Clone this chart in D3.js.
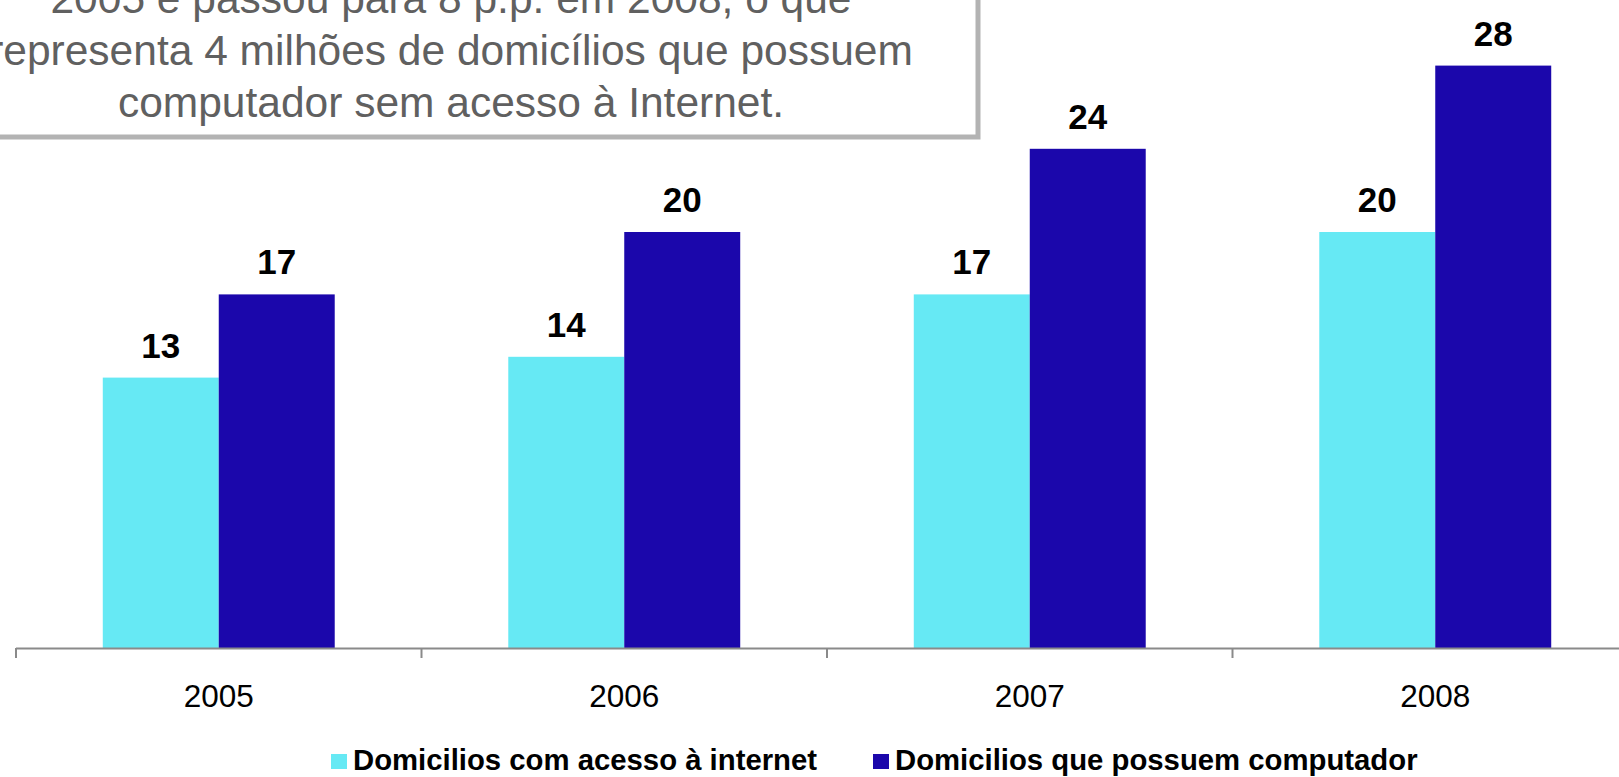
<!DOCTYPE html>
<html>
<head>
<meta charset="utf-8">
<script src="https://cdn.jsdelivr.net/npm/d3@7"></script>
<style>
  html, body { margin: 0; padding: 0; background: #ffffff; overflow: hidden; }
  svg { display: block; font-family: "Liberation Sans", Arial, sans-serif; }
</style>
</head>
<body>
<svg id="chart" width="1619" height="777"></svg>
<script>
// ---- data ----
const years = ["2005", "2006", "2007", "2008"];
const seriesNames = ["Domicilios com acesso à internet", "Domicilios que possuem computador"];
const internetValues = [13, 14, 17, 20];
const computerValues = [17, 20, 24, 28];
const seriesColors = ["#66e9f4", "#1b07ab"];
const noteLines = [
  "2005 e passou para 8 p.p. em 2008, o que",
  "representa 4 milhões de domicílios que possuem",
  "computador sem acesso à Internet."
];

const rows = years.map((y, i) => ({ year: y, values: [internetValues[i], computerValues[i]] }));

const svg = d3.select("#chart");

// ---- scales ----
const axisY = 648;
const x0 = d3.scaleBand()
  .domain(years)
  .range([16, 1638])
  .paddingInner(0.428)
  .paddingOuter(0.214);

const x1 = d3.scaleBand()
  .domain(d3.range(seriesNames.length))
  .range([0, x0.bandwidth()])
  .padding(0);

const y = d3.scaleLinear()
  .domain([0, 30])
  .range([axisY, axisY - 30 * 20.8]);

// ---- note box ----
svg.append("rect")
  .attr("x", -10).attr("y", -10)
  .attr("width", 988).attr("height", 147)
  .attr("fill", "#ffffff")
  .attr("stroke", "#b3b3b3")
  .attr("stroke-width", 5);

svg.append("g")
  .selectAll("text")
  .data(noteLines)
  .join("text")
  .attr("x", 451)
  .attr("y", (d, i) => 13 + i * 52)
  .attr("text-anchor", "middle")
  .attr("font-size", 42.5)
  .attr("fill", "#606060")
  .text(d => d);

// ---- bars ----
const groups = svg.append("g")
  .selectAll("g")
  .data(rows)
  .join("g")
  .attr("transform", d => `translate(${x0(d.year)},0)`);

groups.selectAll("rect")
  .data(d => d.values.map((v, i) => ({ v, i })))
  .join("rect")
  .attr("x", d => x1(d.i))
  .attr("width", x1.bandwidth())
  .attr("y", d => y(d.v))
  .attr("height", d => y(0) - y(d.v))
  .attr("fill", d => seriesColors[d.i]);

groups.selectAll("text")
  .data(d => d.values.map((v, i) => ({ v, i })))
  .join("text")
  .attr("x", d => x1(d.i) + x1.bandwidth() / 2)
  .attr("y", d => y(d.v) - 20)
  .attr("text-anchor", "middle")
  .attr("font-size", 35)
  .attr("font-weight", "bold")
  .attr("fill", "#000000")
  .text(d => d.v);

// ---- x axis ----
const axisG = svg.append("g");
const r0 = x0.range()[0];
const step = x0.step();
axisG.append("line")
  .attr("x1", r0).attr("x2", x0.range()[1])
  .attr("y1", axisY + 0.5).attr("y2", axisY + 0.5)
  .attr("stroke", "#8a8a8a").attr("stroke-width", 2);

axisG.selectAll("line.tick")
  .data(d3.range(years.length + 1))
  .join("line")
  .attr("class", "tick")
  .attr("x1", i => r0 + i * step).attr("x2", i => r0 + i * step)
  .attr("y1", axisY).attr("y2", axisY + 10)
  .attr("stroke", "#8a8a8a").attr("stroke-width", 2);

axisG.selectAll("text")
  .data(years)
  .join("text")
  .attr("x", d => x0(d) + x0.bandwidth() / 2)
  .attr("y", 707)
  .attr("text-anchor", "middle")
  .attr("font-size", 31.5)
  .attr("fill", "#000000")
  .text(d => d);

// ---- legend ----
const legendX = [331, 873];
const legend = svg.append("g")
  .selectAll("g")
  .data(seriesNames)
  .join("g")
  .attr("transform", (d, i) => `translate(${legendX[i]},0)`);

legend.append("rect")
  .attr("x", 0).attr("y", 754)
  .attr("width", 16).attr("height", 15)
  .attr("fill", (d, i) => seriesColors[i]);

legend.append("text")
  .attr("x", 22)
  .attr("y", 770)
  .attr("font-size", 29.3)
  .attr("font-weight", "bold")
  .attr("fill", "#000000")
  .text(d => d);
</script>
</body>
</html>
